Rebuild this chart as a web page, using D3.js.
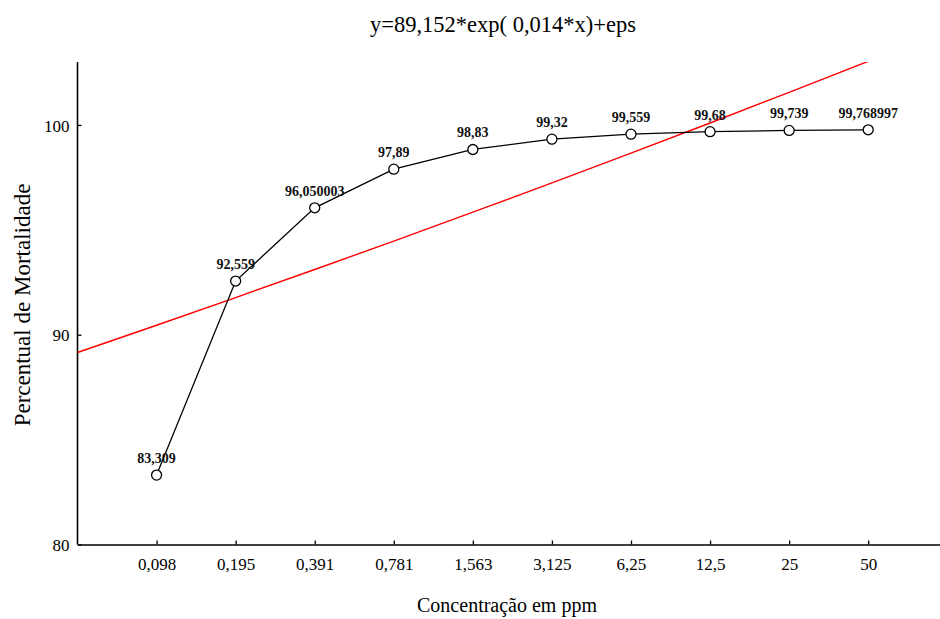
<!DOCTYPE html>
<html>
<head>
<meta charset="utf-8">
<script src="https://cdn.jsdelivr.net/npm/d3@7"></script>
<style>
	body { margin: 0; background: #fff; }
	svg { display: block; font-family: "Liberation Serif", "Times New Roman", serif; }
</style>
</head>
<body>
<div class="chart"></div>
<script>
// concentrations (ppm), plotted at positions 1..10
var concentrations = ["0,098", "0,195", "0,391", "0,781", "1,563", "3,125", "6,25", "12,5", "25", "50"];
var mortality = [83.309, 92.559, 96.050003, 97.89, 98.83, 99.32, 99.559, 99.68, 99.739, 99.768997];
var pointLabels = ["83,309", "92,559", "96,050003", "97,89", "98,83", "99,32", "99,559", "99,68", "99,739", "99,768997"];
var yTicks = [80, 90, 100];

// fitted model y = a*exp(b*x), b
var fitA = 89.152, fitB = 0.01447;
var fitX = [0, 1, 2, 3, 4, 5, 6, 7, 8, 9, 10];

var W = 940, H = 619;
var plotLeft = 77.5, plotTop = 62, plotBottom = 544.5;

var svg = d3.select(".chart").append("svg")
	.attr("width", W)
	.attr("height", H);

var x = d3.scaleLinear().domain([0, 11]).range([plotLeft, plotLeft + 11 * 79.07]);
var y = d3.scaleLinear().domain([80, 103]).range([plotBottom, plotTop]);

svg.append("defs").append("clipPath").attr("id", "plot")
	.append("rect").attr("x", plotLeft).attr("y", plotTop)
	.attr("width", W - plotLeft).attr("height", plotBottom - plotTop);

// axes
var xAxis = d3.axisBottom(x)
	.tickValues(d3.range(1, 11))
	.tickFormat(function (d) { return concentrations[d - 1]; })
	.tickSizeInner(-4).tickSizeOuter(0).tickPadding(13);
var yAxis = d3.axisLeft(y)
	.tickValues(yTicks)
	.tickSizeInner(-4).tickSizeOuter(0).tickPadding(8);

var gx = svg.append("g").attr("transform", "translate(0," + plotBottom + ")").call(xAxis);
var gy = svg.append("g").attr("transform", "translate(" + plotLeft + ",0)").call(yAxis);

// y axis runs up to the top of the plot
gy.select(".domain").attr("d", "M0," + plotBottom + "V" + plotTop);

[gx, gy].forEach(function (g) {
	g.attr("font-family", null).attr("font-size", null);
	g.select(".domain").attr("stroke", "#000").attr("stroke-width", 1.6);
	g.selectAll(".tick line").attr("stroke", "#000").attr("stroke-width", 1.3);
	g.selectAll(".tick text").attr("fill", "#000").attr("font-size", 17);
});
gy.selectAll(".tick text").attr("dy", "0.36em");

// fitted curve (red)
var fitLine = d3.line()
	.x(function (d) { return x(d); })
	.y(function (d) { return y(fitA * Math.exp(fitB * d)); });

svg.append("path")
	.datum(fitX)
	.attr("clip-path", "url(#plot)")
	.attr("fill", "none")
	.attr("stroke", "#ff0000")
	.attr("stroke-width", 1.4)
	.attr("d", fitLine);

// observed data
var dataLine = d3.line()
	.x(function (d, i) { return x(i + 1); })
	.y(function (d) { return y(d); });

svg.append("path")
	.datum(mortality)
	.attr("fill", "none")
	.attr("stroke", "#000")
	.attr("stroke-width", 1.3)
	.attr("d", dataLine);

svg.selectAll("circle.dot").data(mortality).enter().append("circle")
	.attr("class", "dot")
	.attr("cx", function (d, i) { return x(i + 1); })
	.attr("cy", function (d) { return y(d); })
	.attr("r", 5)
	.attr("fill", "#fff")
	.attr("stroke", "#000")
	.attr("stroke-width", 1.3);

svg.selectAll("text.lbl").data(mortality).enter().append("text")
	.attr("class", "lbl")
	.attr("x", function (d, i) { return x(i + 1); })
	.attr("y", function (d) { return y(d) - 12; })
	.attr("text-anchor", "middle")
	.attr("font-size", 14)
	.attr("font-weight", "bold")
	.attr("fill", "#111")
	.text(function (d, i) { return pointLabels[i]; });

// titles
svg.append("text")
	.attr("x", 503).attr("y", 32)
	.attr("text-anchor", "middle")
	.attr("font-size", 22.5)
	.text("y=89,152*exp( 0,014*x)+eps");

svg.append("text")
	.attr("x", 507).attr("y", 612)
	.attr("text-anchor", "middle")
	.attr("font-size", 20)
	.text("Concentração em ppm");

svg.append("text")
	.attr("transform", "translate(30,305) rotate(-90)")
	.attr("text-anchor", "middle")
	.attr("font-size", 23)
	.text("Percentual de Mortalidade");
</script>
</body>
</html>
